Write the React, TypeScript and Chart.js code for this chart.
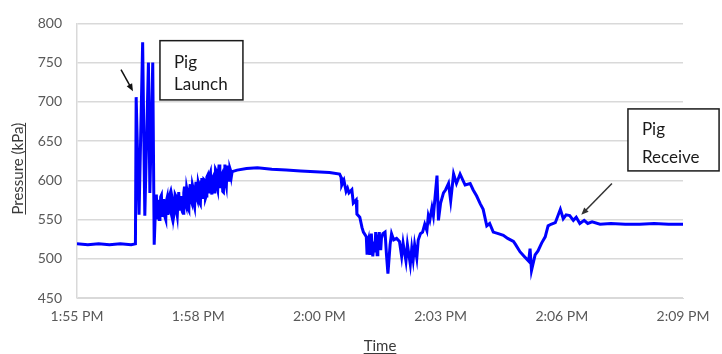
import React, { useEffect, useRef } from "react";
import { Chart, registerables } from "chart.js";
Chart.register(...registerables);

// Each entry: [seconds after 1:55 PM, pressure kPa]
const baselineSegment: [number, number][] = [
  [0, 519], [15, 518], [30, 519], [45, 518], [60, 519], [75, 518], [81, 519],
];

const launchSegment: [number, number][] = [
  [82, 706], [86, 556], [91, 776], [94, 555], [99, 750], [101, 584], [105, 750], [107, 518], [109, 570],
];

const rampSegment: [number, number][] = [
  [110, 582], [111, 552], [112, 566], [113, 575], [114, 550], [115, 558], [116, 579], [117, 581], [118, 555],
  [119, 560], [120, 576], [121, 568], [122, 553], [123, 550], [124, 574], [125, 578], [126, 556], [127, 562],
  [128, 580], [129, 583], [130, 560], [131, 556], [132, 577], [133, 572], [134, 554], [135, 560], [136, 582],
  [137, 580], [138, 561], [139, 555], [140, 574], [141, 585], [142, 565], [143, 563], [144, 580], [145, 575],
  [146, 560], [147, 558], [148, 584], [149, 592], [150, 571], [151, 568], [152, 590], [153, 585], [154, 564],
  [155, 562], [156, 588], [157, 595], [158, 575], [159, 572], [160, 594], [161, 590], [162, 570], [163, 566],
  [164, 589], [165, 598], [166, 578], [167, 575], [168, 597], [169, 593], [170, 572], [171, 570], [172, 598],
  [173, 603], [174, 582], [175, 578], [176, 601], [177, 600], [178, 577], [179, 580], [180, 604], [181, 606],
  [182, 586], [183, 585], [184, 607], [185, 610], [186, 588], [187, 582], [188, 603], [189, 605], [190, 585],
  [191, 590], [192, 614], [193, 612], [194, 592], [195, 588], [196, 611], [197, 620], [198, 597], [199, 590],
  [200, 606], [201, 608], [202, 586], [203, 585], [204, 612], [205, 620], [206, 598], [207, 593], [208, 615],
  [209, 619], [210, 603], [211, 600], [212, 615], [213, 612], [214, 605], [215, 611], [216, 611],
];

const plateauSegment: [number, number][] = [
  [222, 613], [235, 615], [250, 616], [270, 614], [290, 613], [310, 612], [330, 611], [350, 610], [364, 608],
];

const dipSegment: [number, number][] = [
  [366, 604], [367, 594], [370, 600], [373, 586], [375, 590], [377, 584], [381, 588], [383, 571], [387, 575],
  [388, 557], [392, 553], [395, 540], [397, 534], [401, 528], [402, 507], [403, 520], [404, 524], [405, 510],
  [406, 505], [407, 525], [408, 532], [409, 515], [410, 503], [411, 512], [412, 522], [413, 508], [414, 534],
  [415, 520], [416, 505], [417, 518], [419, 534], [420, 520], [421, 511], [422, 526], [424, 532], [427, 534],
  [429, 505], [431, 481], [434, 518], [436, 532], [439, 524], [443, 526], [447, 522], [450, 503], [452, 520],
  [456, 497], [458, 518], [462, 493], [464, 513], [466, 499], [468, 518], [471, 501], [473, 524], [476, 532],
  [479, 534], [482, 544], [485, 536], [487, 555], [489, 549], [492, 565], [494, 555], [499, 606], [501, 549],
  [504, 571], [508, 584], [511, 588], [515, 596], [518, 574], [522, 608], [526, 596], [531, 608], [538, 594],
  [545, 596], [549, 588], [554, 580], [559, 570], [563, 563], [568, 542], [572, 545], [577, 534], [584, 532],
  [591, 530], [597, 526], [605, 522], [608, 518], [614, 509], [620, 503], [626, 497], [628, 513], [630, 485],
  [635, 505], [639, 510], [644, 520], [649, 528], [653, 542], [657, 544], [663, 546],
];

const receiveSegment: [number, number][] = [
  [670, 563], [674, 551], [678, 556], [683, 555], [688, 549], [692, 553], [697, 545], [703, 549], [708, 545],
  [714, 547], [725, 544], [740, 545], [760, 544], [780, 544], [800, 545], [820, 544], [840, 544],
];

const xTickSec = [0, 168, 336, 504, 672, 840];
const xTickLabels = ["1:55 PM", "1:58 PM", "2:00 PM", "2:03 PM", "2:06 PM", "2:09 PM"];
const yTicks = [450, 500, 550, 600, 650, 700, 750, 800];

const launchLines = ["Pig", "Launch"];
const receiveLines = ["Pig", "Receive"];
// annotation anchors in data units (seconds, kPa)
const launchBox = { x0: 115, x1: 230, y0: 778, y1: 702.5, l1: 27, l2: 49 };
const launchArrow = { x0: 61, y0: 741, x1: 77.6, y1: 713.6 };
const receiveBox = { x0: 763.7, x1: 890, y0: 691, y1: 612, l1: 26, l2: 54 };
const receiveArrow = { x0: 741.5, y0: 596, x1: 699, y1: 556 };

const FONT = 'Lato, "Open Sans", sans-serif';

function drawArrow(ctx: CanvasRenderingContext2D, x0: number, y0: number, x1: number, y1: number, color: string) {
  const ang = Math.atan2(y1 - y0, x1 - x0);
  const head = 8;
  ctx.save();
  ctx.strokeStyle = color;
  ctx.fillStyle = color;
  ctx.lineWidth = 1.5;
  ctx.beginPath();
  ctx.moveTo(x0, y0);
  ctx.lineTo(x1 - Math.cos(ang) * head * 0.8, y1 - Math.sin(ang) * head * 0.8);
  ctx.stroke();
  ctx.beginPath();
  ctx.moveTo(x1, y1);
  ctx.lineTo(x1 - head * Math.cos(ang - 0.4), y1 - head * Math.sin(ang - 0.4));
  ctx.lineTo(x1 - head * Math.cos(ang + 0.4), y1 - head * Math.sin(ang + 0.4));
  ctx.closePath();
  ctx.fill();
  ctx.restore();
}

const annotPlugin = {
  id: "annot",
  afterDraw(chart: any) {
    const ctx: CanvasRenderingContext2D = chart.ctx;
    const xs = chart.scales.x;
    const ys = chart.scales.y;
    const px = (v: number) => xs.getPixelForValue(v);
    const py = (v: number) => ys.getPixelForValue(v);

    const drawBox = (b: any, lines: string[]) => {
      const l = px(b.x0), r = px(b.x1), t = py(b.y0), bt = py(b.y1);
      ctx.save();
      ctx.fillStyle = "#ffffff";
      ctx.fillRect(l, t, r - l, bt - t);
      ctx.strokeStyle = "#1a1a1a";
      ctx.lineWidth = 1.5;
      ctx.strokeRect(l, t, r - l, bt - t);
      ctx.fillStyle = "#1a1a1a";
      ctx.font = `17px ${FONT}`;
      ctx.textAlign = "left";
      ctx.textBaseline = "alphabetic";
      ctx.fillText(lines[0], l + 14, t + b.l1);
      ctx.fillText(lines[1], l + 14, t + b.l2);
      ctx.restore();
    };
    drawBox(launchBox, launchLines);
    drawBox(receiveBox, receiveLines);
    drawArrow(ctx, px(launchArrow.x0), py(launchArrow.y0), px(launchArrow.x1), py(launchArrow.y1), "#111111");
    drawArrow(ctx, px(receiveArrow.x0), py(receiveArrow.y0), px(receiveArrow.x1), py(receiveArrow.y1), "#333333");

    // axis titles (underlined)
    ctx.save();
    ctx.fillStyle = "#3a3a3a";
    ctx.strokeStyle = "#3a3a3a";
    ctx.lineWidth = 1;
    ctx.font = `15px ${FONT}`;
    ctx.textAlign = "center";
    ctx.textBaseline = "alphabetic";
    const cx = (chart.chartArea.left + chart.chartArea.right) / 2;
    const tW = ctx.measureText("Time").width;
    ctx.fillText("Time", cx, 351);
    ctx.beginPath();
    ctx.moveTo(cx - tW / 2, 353.5);
    ctx.lineTo(cx + tW / 2, 353.5);
    ctx.stroke();

    const cy = (chart.chartArea.top + chart.chartArea.bottom) / 2 + 8;
    ctx.translate(23, cy);
    ctx.rotate(-Math.PI / 2);
    const pW = ctx.measureText("Pressure (kPa)").width;
    ctx.fillText("Pressure (kPa)", 0, 0);
    ctx.beginPath();
    ctx.moveTo(-pW / 2, 2.5);
    ctx.lineTo(pW / 2, 2.5);
    ctx.stroke();
    ctx.restore();
  },
};

export default function App() {
  const ref = useRef<HTMLCanvasElement>(null);
  useEffect(() => {
    const canvas = ref.current!;
    const trace = [
      ...baselineSegment,
      ...launchSegment,
      ...rampSegment,
      ...plateauSegment,
      ...dipSegment,
      ...receiveSegment,
    ].map(([x, y]) => ({ x, y }));
    const chart = new Chart(canvas, {
      type: "line",
      data: {
        datasets: [
          {
            data: trace,
            borderColor: "#0000ff",
            borderWidth: 3,
            pointRadius: 0,
            tension: 0,
            fill: false,
          },
        ],
      },
      options: {
        responsive: false,
        animation: false,
        devicePixelRatio: 1,
        layout: { padding: { left: 0, right: 39, top: 15, bottom: 0 } },
        plugins: { legend: { display: false }, tooltip: { enabled: false } },
        scales: {
          x: {
            type: "linear",
            min: 0,
            max: 840,
            afterBuildTicks: (s: any) => {
              s.ticks = xTickSec.map((v) => ({ value: v }));
            },
            ticks: {
              callback: (v: any) => xTickLabels[xTickSec.indexOf(Number(v))] ?? "",
              autoSkip: false,
              maxRotation: 0,
              padding: 10,
              color: "#595959",
              font: { family: FONT, size: 14 },
            },
            grid: { display: false, drawTicks: false },
            border: { display: true, color: "#d9d9d9", width: 1 },
            afterFit: (s: any) => {
              s.height = 56;
            },
          },
          y: {
            type: "linear",
            min: 450,
            max: 800,
            afterBuildTicks: (s: any) => {
              s.ticks = yTicks.map((v) => ({ value: v }));
            },
            ticks: {
              padding: 15,
              color: "#595959",
              font: { family: FONT, size: 14 },
            },
            grid: { color: "#d9d9d9", drawTicks: false, lineWidth: 1.5 },
            border: { display: true, color: "#d9d9d9", width: 1.5 },
            afterFit: (s: any) => {
              s.width = 77;
            },
          },
        },
      },
      plugins: [annotPlugin],
    });
    return () => chart.destroy();
  }, []);
  return (
    <div style={{ position: "fixed", left: 0, top: 0, width: 722, height: 354, background: "#ffffff" }}>
      <canvas ref={ref} width={722} height={354} style={{ display: "block" }} />
    </div>
  );
}
